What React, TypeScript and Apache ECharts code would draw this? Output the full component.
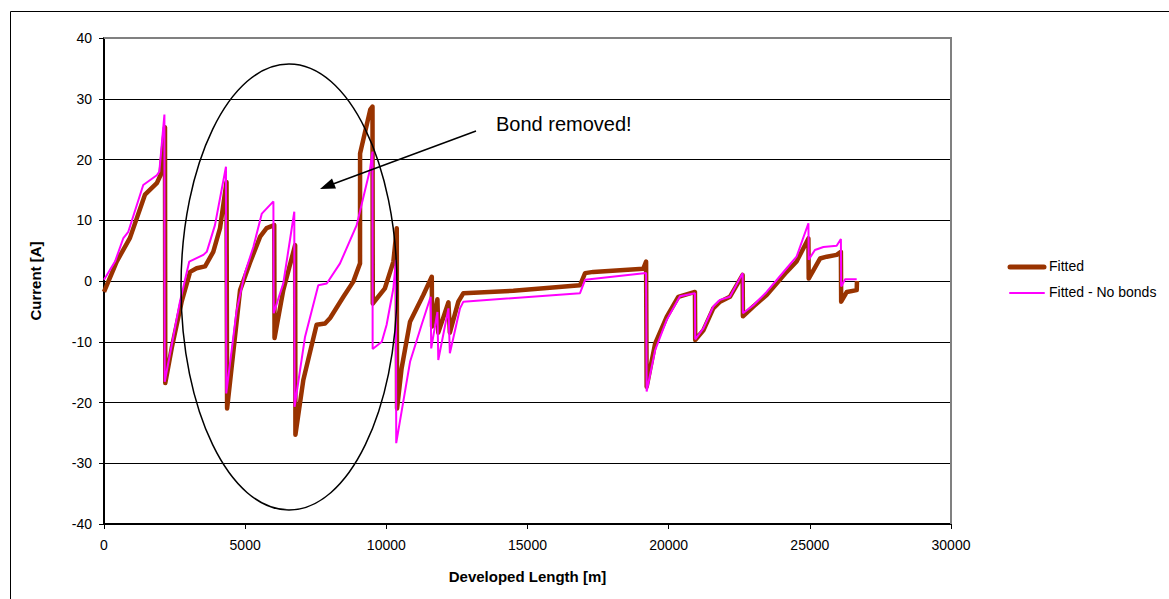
import React, { useEffect, useRef } from "react";
import * as echarts from "echarts";

// Developed length [m] / current [A] pairs for each fitted profile
const fitted: [number, number][] = [
  [0, -1.8], [450, 3.2], [920, 7.1], [1450, 14.2], [1870, 16.1], [2000, 17.4], [2160, 25.3],
  [2170, -16.8], [2400, -11], [2750, -3.4], [3050, 1.5], [3280, 2.1], [3580, 2.4], [3870, 4.8],
  [4110, 8.7], [4340, 16.3], [4360, -21], [4460, -16.8], [4820, -1.5], [5170, 3], [5530, 7.3],
  [5760, 8.7], [6030, 9.2], [6040, -9.4], [6350, -1.5], [6770, 5.9], [6780, -25.3], [7060, -16.3],
  [7530, -7.2], [7830, -7], [8010, -6.1], [8480, -2.6], [8830, -0.1], [9068, 2.9], [9070, 21],
  [9430, 28.2], [9510, 28.7], [9520, -3.7], [9950, -1.2], [10250, 3.2], [10370, 8.7], [10380, -21],
  [10540, -14.4], [10840, -6.7], [11310, -2.3], [11610, 0.7], [11620, -7.5], [11810, -3.0],
  [11840, -8.5], [12200, -3.5], [12250, -8.5], [12550, -3.4], [12730, -2.0], [14500, -1.6],
  [16860, -0.7], [17040, 1.3], [17330, 1.5], [19100, 2.0], [19200, 3.2], [19220, -17.4],
  [19520, -10.3], [19930, -5.9], [20340, -2.6], [20930, -1.8], [20940, -9.7], [21230, -8.1],
  [21580, -4.5], [21820, -3.4], [22170, -2.6], [22620, 1], [22630, -5.8], [23000, -4.2],
  [23470, -2.3], [24180, 1.5], [24530, 3.2], [24950, 7.0], [24960, 0.4], [25360, 3.7],
  [25600, 4], [25950, 4.3], [26100, 4.8], [26110, -3.4], [26310, -1.8], [26660, -1.5], [26670, 0.0],
];

const fittedNoBonds: [number, number][] = [
  [0, 0.2], [390, 3.2], [680, 7], [860, 8.1], [1390, 15.8], [1870, 17.4], [1960, 18], [2140, 27.4],
  [2150, -16.6], [2400, -10.5], [2690, -3.4], [3020, 3.2], [3520, 4.3], [3640, 4.8], [3930, 9.2],
  [4320, 18.8], [4330, -18.5], [4700, -4.8], [4990, 1.3], [5290, 5.6], [5590, 11.1], [6000, 13.1],
  [6010, -5.3], [6350, -0.4], [6740, 11.4], [6750, -20.7], [7120, -9.2], [7590, -0.7], [7890, -0.4],
  [8360, 2.9], [8950, 9.2], [9420, 18.3], [9510, 21.3], [9515, -11.2], [9840, -10], [10010, -7.2],
  [10250, -1.2], [10340, 3.5], [10350, -26.7], [10540, -21.5], [10840, -13.3], [11250, -7.2],
  [11570, -2.6], [11590, -11.1], [11810, -5.1], [11840, -13], [12200, -4.5], [12250, -11.9],
  [12610, -4.5], [12730, -3.4], [16860, -2.0], [17040, 0.2], [19200, 1.3], [19220, -18.2],
  [19520, -11.4], [19930, -6.4], [20400, -2.5], [20930, -2.0], [20940, -9.6], [21230, -7.8],
  [21580, -4.2], [21820, -3.1], [22170, -2.6], [22620, 1.3], [22630, -5.3], [23000, -4.0],
  [23470, -1.8], [24180, 2.1], [24530, 4.0], [24950, 9.5], [24960, 3.5], [25180, 5.1],
  [25480, 5.6], [25950, 5.8], [26100, 6.9], [26110, -0.9], [26250, 0.3], [26660, 0.3],
];

const seriesNames = ["Fitted", "Fitted - No bonds"];
const seriesColors = ["#993300", "#ff00ff"];
const seriesWidths = [4.5, 2];
const xTitle = "Developed Length [m]";
const yTitle = "Current [A]";
const note = "Bond removed!";

const FONT = "'Liberation Sans', Arial, sans-serif";

export default function App() {
  const ref = useRef<HTMLDivElement>(null);

  useEffect(() => {
    if (!ref.current) return;
    const chart = echarts.init(ref.current, undefined, { renderer: "svg" });

    // hand-drawn legend: line sample + label per series
    const legendItems: any[] = [];
    seriesNames.forEach((name, i) => {
      const y = 267 + i * 26;
      legendItems.push({
        type: "line",
        silent: true,
        shape: { x1: 1010, y1: y, x2: 1044, y2: y },
        style: { stroke: seriesColors[i], lineWidth: seriesWidths[i] + (i === 0 ? 0.5 : 0), lineCap: "round" },
        z: 10,
      });
      legendItems.push({
        type: "text",
        silent: true,
        left: 1049,
        top: y - 8,
        style: { text: name, fontFamily: FONT, fontSize: 14, fill: "#000" },
        z: 10,
      });
    });

    chart.setOption({
      animation: false,
      backgroundColor: "#ffffff",
      grid: { left: 104, top: 38, right: 218, bottom: 75, show: false },
      xAxis: {
        type: "value",
        min: 0,
        max: 30000,
        interval: 5000,
        name: xTitle,
        nameLocation: "middle",
        nameGap: 45,
        nameTextStyle: { fontFamily: FONT, fontSize: 15, fontWeight: "bold", color: "#000" },
        axisLine: { show: true, onZero: false, lineStyle: { color: "#000", width: 2 } },
        axisTick: { show: true, inside: false, length: 5, lineStyle: { color: "#000" } },
        axisLabel: {
          fontFamily: FONT,
          fontSize: 14,
          color: "#000",
          margin: 14,
          formatter: (v: number) => String(v),
        },
        splitLine: { show: false },
      },
      yAxis: {
        type: "value",
        min: -40,
        max: 40,
        interval: 10,
        name: yTitle,
        nameLocation: "middle",
        nameGap: 61,
        nameRotate: 90,
        nameTextStyle: { fontFamily: FONT, fontSize: 15, fontWeight: "bold", color: "#000" },
        axisLine: { show: true, onZero: false, lineStyle: { color: "#000", width: 2 } },
        axisTick: { show: true, inside: false, length: 5, lineStyle: { color: "#000" } },
        axisLabel: {
          fontFamily: FONT,
          fontSize: 14,
          color: "#000",
          margin: 12,
          formatter: (v: number) => String(v),
        },
        splitLine: { show: true, lineStyle: { color: "#000", width: 1 } },
      },
      series: [
        {
          name: seriesNames[0],
          type: "line",
          data: fitted,
          symbol: "none",
          lineStyle: { color: seriesColors[0], width: seriesWidths[0], join: "round" },
          itemStyle: { color: seriesColors[0] },
          z: 2,
        },
        {
          name: seriesNames[1],
          type: "line",
          data: fittedNoBonds,
          symbol: "none",
          lineStyle: { color: seriesColors[1], width: seriesWidths[1] },
          itemStyle: { color: seriesColors[1] },
          z: 3,
        },
      ],
      graphic: [
        // outer chart frame
        {
          type: "rect",
          silent: true,
          shape: { x: 10.5, y: 11.5, width: 1200, height: 700 },
          style: { fill: "none", stroke: "#000", lineWidth: 1 },
          z: -10,
        },
        // plot-area top and right edges
        {
          type: "polyline",
          silent: true,
          shape: { points: [[104, 38], [951, 38], [951, 524]] },
          style: { fill: "none", stroke: "#808080", lineWidth: 2 },
          z: 1,
        },
        // highlight ellipse
        {
          type: "ellipse",
          silent: true,
          shape: { cx: 289, cy: 287, rx: 108, ry: 223 },
          style: { fill: "none", stroke: "#000", lineWidth: 1.5 },
          z: 10,
        },
        // callout arrow
        {
          type: "line",
          silent: true,
          shape: { x1: 476, y1: 131, x2: 333, y2: 184 },
          style: { stroke: "#000", lineWidth: 1.5 },
          z: 10,
        },
        {
          type: "polygon",
          silent: true,
          shape: { points: [[320, 189], [336, 188.5], [332, 178.5]] },
          style: { fill: "#000" },
          z: 10,
        },
        {
          type: "text",
          silent: true,
          left: 496,
          top: 114,
          style: { text: note, fontFamily: FONT, fontSize: 20, fill: "#000" },
          z: 10,
        },
        ...legendItems,
      ],
    });
    return () => chart.dispose();
  }, []);

  return (
    <div
      ref={ref}
      style={{ position: "fixed", left: 0, top: 0, width: 1169, height: 599 }}
    />
  );
}
